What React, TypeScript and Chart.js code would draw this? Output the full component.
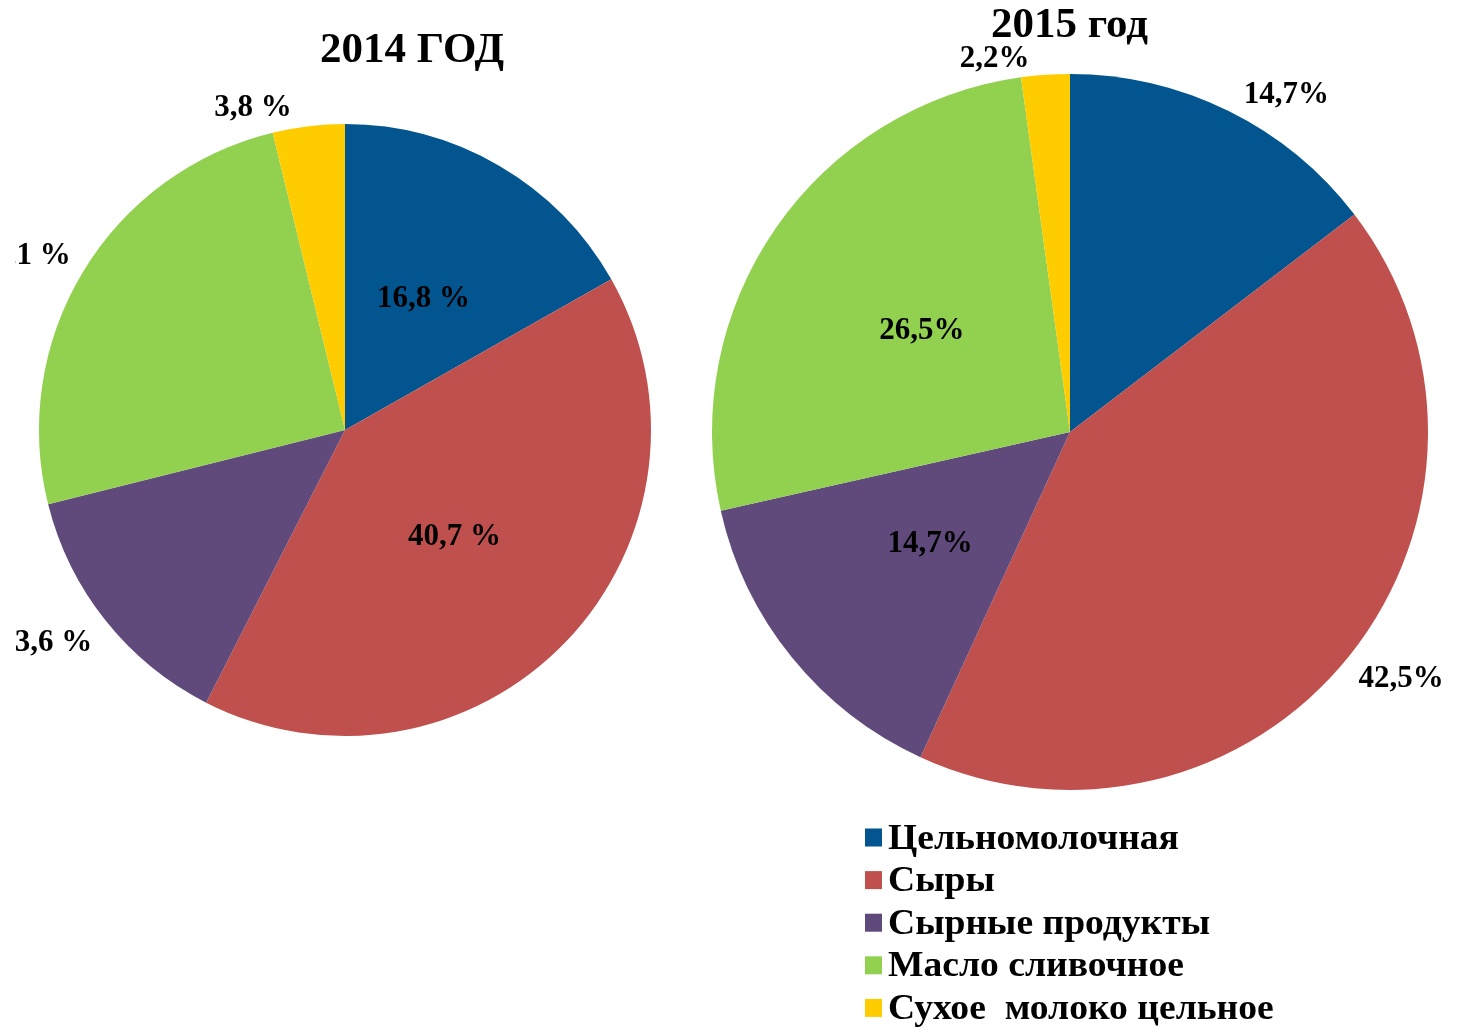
import React, { useEffect, useRef } from "react";
import { Chart, registerables } from "chart.js";

Chart.register(...registerables);

// ---- data ----
const categories = [
  "Цельномолочная",
  "Сыры",
  "Сырные продукты",
  "Масло сливочное",
  "Сухое  молоко цельное",
];
const values2014 = [16.8, 40.7, 13.6, 25.1, 3.8];
const values2015 = [14.7, 42.5, 14.7, 26.5, 2.2];
const labels2014 = ["16,8 %", "40,7 %", "13,6 %", "25,1 %", "3,8 %"];
const labels2015 = ["14,7%", "42,5%", "14,7%", "26,5%", "2,2%"];
const title2014 = "2014 ГОД";
const title2015 = "2015 год";

// ---- styles / placement ----
const colors = ["#03558F", "#C0504D", "#5F4A7B", "#92D050", "#FFCC00"];
const FONT = "'Liberation Serif', 'Times New Roman', serif";
// radial factor (of outer radius) and angular offset (deg) for each label
const place2014 = [
  { r: 0.5, a: 0.6 },
  { r: 0.5, a: 0.5 },
  { r: 1.2, a: 3.1 },
  { r: 1.1925, a: -2.7 },
  { r: 1.094, a: -9.1 },
];
const place2015 = [
  { r: 1.119, a: 6.4 },
  { r: 1.154, a: -1.9 },
  { r: 0.5, a: 0.4 },
  { r: 0.5, a: -0.5 },
  { r: 1.063, a: -7.5 },
];

const labelPlugin = (texts: string[], place: { r: number; a: number }[]) => ({
  id: "sliceLabels",
  afterDatasetsDraw(chart: any) {
    const ctx = chart.ctx;
    const meta = chart.getDatasetMeta(0);
    ctx.save();
    ctx.font = `bold 31px ${FONT}`;
    ctx.fillStyle = "#000";
    ctx.textAlign = "center";
    ctx.textBaseline = "middle";
    meta.data.forEach((arc: any, i: number) => {
      const p = arc.getProps(["x", "y", "startAngle", "endAngle", "outerRadius"], true);
      const mid = (p.startAngle + p.endAngle) / 2 + (place[i].a * Math.PI) / 180;
      const rr = p.outerRadius * place[i].r;
      ctx.fillText(texts[i], p.x + rr * Math.cos(mid), p.y + rr * Math.sin(mid));
    });
    ctx.restore();
  },
});

const titlePlugin = (text: string, x: number, baseline: number) => ({
  id: "bigTitle",
  afterDraw(chart: any) {
    const ctx = chart.ctx;
    ctx.save();
    ctx.font = `bold 43px ${FONT}`;
    ctx.fillStyle = "#000";
    ctx.textAlign = "center";
    ctx.textBaseline = "alphabetic";
    ctx.fillText(text, x, baseline);
    ctx.restore();
  },
});

const legendPlugin = {
  id: "sideLegend",
  afterDraw(chart: any) {
    const ctx = chart.ctx;
    const ds = chart.data.datasets[0];
    const labels: string[] = chart.data.labels;
    const boxX = 165;
    const textX = 188;
    const firstBase = 848.5;
    const step = 42.6;
    ctx.save();
    ctx.font = `bold 35px ${FONT}`;
    ctx.textAlign = "left";
    ctx.textBaseline = "alphabetic";
    labels.forEach((lab, i) => {
      const base = firstBase + i * step;
      ctx.fillStyle = ds.backgroundColor[i];
      ctx.fillRect(boxX, base - 20, 17, 18);
      ctx.fillStyle = "#000";
      ctx.save();
      ctx.translate(textX, base);
      ctx.scale(1.074, 1);
      ctx.fillText(lab, 0, 0);
      ctx.restore();
    });
    ctx.restore();
  },
};

function makePie(
  canvas: HTMLCanvasElement,
  values: number[],
  padding: { left: number; right: number; top: number; bottom: number },
  plugins: any[]
) {
  return new Chart(canvas, {
    type: "pie",
    data: {
      labels: categories,
      datasets: [
        {
          data: values,
          backgroundColor: colors,
          borderWidth: 0,
          hoverBorderWidth: 0,
          hoverOffset: 0,
          offset: 0,
        },
      ],
    },
    options: {
      responsive: false,
      animation: false,
      layout: { padding },
      plugins: {
        legend: { display: false },
        title: { display: false },
        tooltip: { enabled: false },
      },
      events: [],
    },
    plugins,
  });
}

export default function App() {
  const leftRef = useRef<HTMLCanvasElement>(null);
  const rightRef = useRef<HTMLCanvasElement>(null);

  useEffect(() => {
    if (!leftRef.current || !rightRef.current) return;
    const c1 = makePie(
      leftRef.current,
      values2014,
      { left: 24, right: 164, top: 124, bottom: 294 },
      [labelPlugin(labels2014, place2014), titlePlugin(title2014, 397, 62)]
    );
    const c2 = makePie(
      rightRef.current,
      values2015,
      { left: 12, right: 32, top: 74, bottom: 240 },
      [labelPlugin(labels2015, place2015), titlePlugin(title2015, 369.5, 37), legendPlugin]
    );
    return () => {
      c1.destroy();
      c2.destroy();
    };
  }, []);

  return (
    <div
      style={{
        position: "absolute",
        left: 0,
        top: 0,
        width: 1460,
        height: 1030,
        background: "#fff",
        overflow: "hidden",
      }}
    >
      <canvas
        ref={leftRef}
        width={800}
        height={1030}
        style={{ position: "absolute", left: 15, top: 0, width: 800, height: 1030 }}
      />
      <canvas
        ref={rightRef}
        width={760}
        height={1030}
        style={{ position: "absolute", left: 700, top: 0, width: 760, height: 1030 }}
      />
    </div>
  );
}
